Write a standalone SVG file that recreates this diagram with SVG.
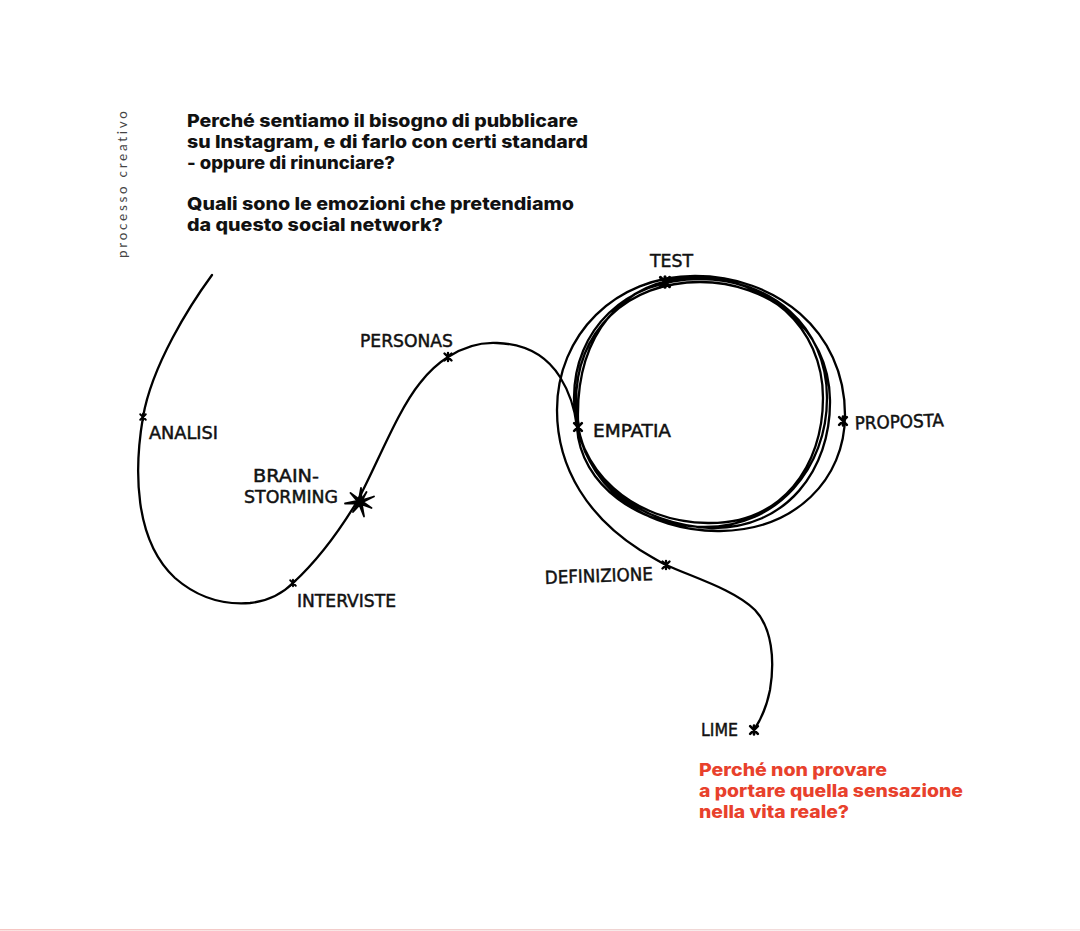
<svg xmlns="http://www.w3.org/2000/svg" width="1080" height="931" viewBox="0 0 1080 931">
<defs>
<style>
.q{font-family:Inter,"Open Sans","Liberation Sans",sans-serif;font-weight:800;font-size:17.5px;fill:#111;}
.r{fill:#e8412c;}
.lbl{font-family:"Liberation Sans Narrow","DejaVu Sans Condensed","Liberation Sans",sans-serif;font-size:18px;fill:#111;stroke:#111;stroke-width:0.45;}
.side{font-family:Lato,"Open Sans",sans-serif;font-weight:400;font-size:13.5px;fill:#444;letter-spacing:2px;}
.curve{fill:none;stroke:#000;stroke-width:2.3;stroke-linecap:round;stroke-linejoin:round;}
.tk{fill:none;stroke:#000;stroke-width:2.4;stroke-linecap:round;}
</style>
<linearGradient id="bl" x1="0" y1="0" x2="1" y2="0">
<stop offset="0" stop-color="#f6c4c1"/>
<stop offset="0.6" stop-color="#efd4d2"/>
<stop offset="1" stop-color="#f9eded"/>
</linearGradient>
<path id="x" d="M-3.5,-3.5 L3.5,3.5 M-3.5,3.5 L3.5,-3.5 M0,-4 L0,4"/>
</defs>
<rect width="1080" height="931" fill="#fff"/>
<rect x="0" y="929" width="1080" height="1.5" fill="url(#bl)"/>

<g id="side-title">
<text class="side" transform="translate(127,258) rotate(-90)" textLength="149" lengthAdjust="spacing">processo creativo</text>
</g>

<g id="question-top">
<text class="q" x="187" y="127" textLength="391" lengthAdjust="spacingAndGlyphs">Perché sentiamo il bisogno di pubblicare</text>
<text class="q" x="187" y="148" textLength="401" lengthAdjust="spacingAndGlyphs">su Instagram, e di farlo con certi standard</text>
<text class="q" x="187" y="169" textLength="208" lengthAdjust="spacingAndGlyphs">- oppure di rinunciare?</text>
<text class="q" x="187" y="210" textLength="387" lengthAdjust="spacingAndGlyphs">Quali sono le emozioni che pretendiamo</text>
<text class="q" x="187" y="231" textLength="256" lengthAdjust="spacingAndGlyphs">da questo social network?</text>
</g>

<g id="question-bottom">
<text class="q r" x="699" y="776" textLength="188" lengthAdjust="spacingAndGlyphs">Perché non provare</text>
<text class="q r" x="699" y="797" textLength="264" lengthAdjust="spacingAndGlyphs">a portare quella sensazione</text>
<text class="q r" x="699" y="818" textLength="150" lengthAdjust="spacingAndGlyphs">nella vita reale?</text>
</g>

<g id="connectors">
<path class="curve" d="M212,275 C190,305 152,365 143,417 C134,470 134,540 175,578 C198,598 225,605 250,603 C268,601 282,594 293,583 C318,560 340,530 358,500 C378,462 398,410 420,383 C430,370 440,362 448,357 C462,348 478,342 497,343 C528,344 548,358 560,377 C570,393 575,410 577,427 C580,485 640,527 705,527 C778,527 827,468 827,398 C827,325 770,279 700,279 C625,279 574,330 574,398 C574,472 634,522 708,523 C782,524 823,466 823,398 C823,326 765,277 695,278 C622,279 576,335 578,420 C580,478 640,526 712,528 C786,529 831,470 830,400 C829,328 768,282 700,282 C628,282 575,330 576,405 C578,490 650,532 720,531 C795,530 845,480 845,415 C845,330 775,276 695,276 C615,276 557,335 557,410 C557,470 590,518 640,550 C650,556 658,561 666,565 C695,578 735,590 755,610 C772,628 775,660 770,690 C767,705 762,718 754,730"/>
</g>

<g id="node-analisi">
<use href="#x" class="tk" transform="translate(143,417) scale(0.8)"/>
<text class="lbl" x="149" y="439" textLength="69" lengthAdjust="spacingAndGlyphs">ANALISI</text>
</g>
<g id="node-interviste">
<use href="#x" class="tk" transform="translate(293,583) scale(0.8)"/>
<text class="lbl" x="297" y="607" textLength="99" lengthAdjust="spacingAndGlyphs">INTERVISTE</text>
</g>
<g id="node-brainstorming">
<polygon points="374,496.5 363,502 371.5,508 361.9,504.3 364,516.5 359.5,505 353,512 357.4,503.5 345,503.5 357.2,501 350.5,493 359,499.2 361,488 361.5,499.4 366.5,492 362.3,500.1" fill="#000" stroke="#000" stroke-width="1.8" stroke-linejoin="round"/>
<text class="lbl" x="253" y="482" textLength="66" lengthAdjust="spacingAndGlyphs">BRAIN-</text>
<text class="lbl" x="244" y="503" textLength="94" lengthAdjust="spacingAndGlyphs">STORMING</text>
</g>
<g id="node-personas">
<use href="#x" class="tk" transform="translate(448,357)"/>
<text class="lbl" x="360" y="347" textLength="93" lengthAdjust="spacingAndGlyphs">PERSONAS</text>
</g>
<g id="node-empatia">
<use href="#x" class="tk" transform="translate(578,427) scale(1.1)"/>
<text class="lbl" x="593" y="437" textLength="78" lengthAdjust="spacingAndGlyphs">EMPATIA</text>
</g>
<g id="node-test">
<use href="#x" class="tk" transform="translate(665,282) scale(1.3)"/>
<text class="lbl" x="650" y="267" textLength="43" lengthAdjust="spacingAndGlyphs">TEST</text>
</g>
<g id="node-proposta">
<use href="#x" class="tk" transform="translate(843,421) scale(1.1)"/>
<text class="lbl" x="855" y="428" textLength="89" lengthAdjust="spacingAndGlyphs" transform="rotate(-2 900 428)">PROPOSTA</text>
</g>
<g id="node-definizione">
<use href="#x" class="tk" transform="translate(666,565)"/>
<text class="lbl" x="545" y="582" textLength="108" lengthAdjust="spacingAndGlyphs" transform="rotate(-2 600 582)">DEFINIZIONE</text>
</g>
<g id="node-lime">
<use href="#x" class="tk" transform="translate(754,730) scale(1.1)"/>
<text class="lbl" x="701" y="736" textLength="37" lengthAdjust="spacingAndGlyphs">LIME</text>
</g>
</svg>
